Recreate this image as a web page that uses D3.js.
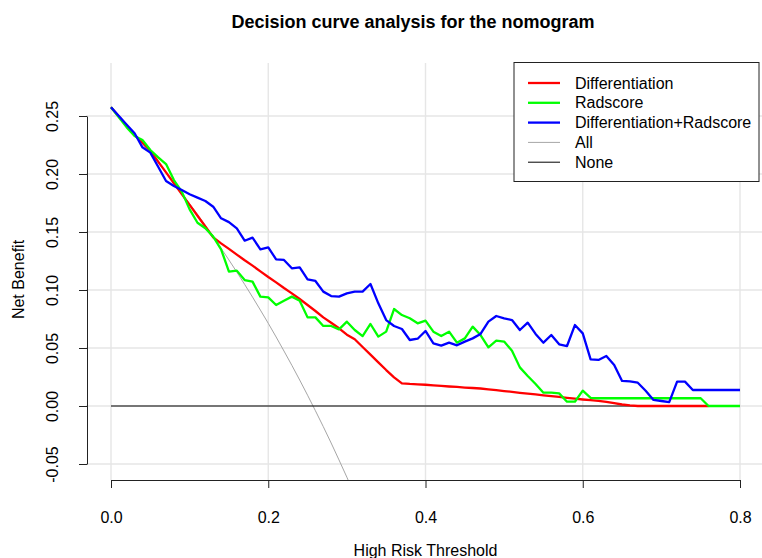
<!DOCTYPE html>
<html>
<head>
<meta charset="utf-8">
<script src="https://cdn.jsdelivr.net/npm/d3@7"></script>
<style>
  body { margin: 0; background: #fff; }
  svg { font-family: "Liberation Sans", Arial, sans-serif; }
</style>
</head>
<body>
<svg id="chart" width="762" height="558"></svg>
<script>
// threshold probabilities (x)
const thresholds = [
  0.00, 0.01, 0.02, 0.03, 0.04, 0.05, 0.06, 0.07, 0.08, 0.09,
  0.10, 0.11, 0.12, 0.13, 0.14, 0.15, 0.16, 0.17, 0.18, 0.19,
  0.20, 0.21, 0.22, 0.23, 0.24, 0.25, 0.26, 0.27, 0.28, 0.29,
  0.30, 0.31, 0.32, 0.33, 0.34, 0.35, 0.36, 0.37, 0.38, 0.39,
  0.40, 0.41, 0.42, 0.43, 0.44, 0.45, 0.46, 0.47, 0.48, 0.49,
  0.50, 0.51, 0.52, 0.53, 0.54, 0.55, 0.56, 0.57, 0.58, 0.59,
  0.60, 0.61, 0.62, 0.63, 0.64, 0.65, 0.66, 0.67, 0.68, 0.69,
  0.70, 0.71, 0.72, 0.73, 0.74, 0.75, 0.76, 0.77, 0.78, 0.79, 0.80
];

// net benefit, Differentiation (ends at 0.76)
const differentiation = [
  0.2575, 0.2495, 0.2415, 0.2336, 0.2270, 0.2200, 0.2107, 0.2014, 0.1920, 0.1827,
  0.1734, 0.1640, 0.1547, 0.1453, 0.1402, 0.1355, 0.1305, 0.1256, 0.1210, 0.1161,
  0.1112, 0.1066, 0.1017, 0.0971, 0.0922, 0.0871, 0.0819, 0.0764, 0.0718, 0.0670,
  0.0615, 0.0575, 0.0509, 0.0443, 0.0376, 0.0310, 0.0247, 0.0195, 0.0190, 0.0187,
  0.0183, 0.0178, 0.0173, 0.0168, 0.0164, 0.0159, 0.0155, 0.0151, 0.0144, 0.0136,
  0.0129, 0.0122, 0.0114, 0.0107, 0.0100, 0.0092, 0.0085, 0.0078, 0.0070, 0.0063,
  0.0056, 0.0050, 0.0044, 0.0035, 0.0024, 0.0013, 0.0005, 0, 0, 0,
  0, 0, 0, 0, 0, 0, 0
];

// net benefit, Radscore
const radscore = [
  0.2575, 0.2490, 0.2402, 0.2328, 0.2293, 0.2207, 0.2144, 0.2086, 0.1948, 0.1848,
  0.1695, 0.1580, 0.1532, 0.1460, 0.1351, 0.1158, 0.1167, 0.1086, 0.1072, 0.0943,
  0.0937, 0.0871, 0.0908, 0.0943, 0.0908, 0.0764, 0.0764, 0.0690, 0.0690, 0.0661,
  0.0727, 0.0655, 0.0603, 0.0707, 0.0598, 0.0641, 0.0836, 0.0784, 0.0756, 0.0713,
  0.0736, 0.0641, 0.0603, 0.0641, 0.0546, 0.0583, 0.0684, 0.0612, 0.0506, 0.0563,
  0.0555, 0.0477, 0.0333, 0.0259, 0.0190, 0.0115, 0.0115, 0.0109, 0.0037, 0.0037,
  0.0132, 0.0070, 0.0067, 0.0067, 0.0067, 0.0067, 0.0067, 0.0067, 0.0067, 0.0067,
  0.0067, 0.0067, 0.0067, 0.0067, 0.0067, 0.0067, 0, 0, 0, 0, 0
];

// net benefit, Differentiation+Radscore
const combined = [
  0.2575, 0.2500, 0.2425, 0.2351, 0.2230, 0.2184, 0.2063, 0.1940, 0.1897, 0.1862,
  0.1825, 0.1796, 0.1767, 0.1718, 0.1618, 0.1585, 0.1532, 0.1425, 0.1451, 0.1351,
  0.1368, 0.1264, 0.1259, 0.1187, 0.1195, 0.1092, 0.1078, 0.0986, 0.0948, 0.0943,
  0.0971, 0.0986, 0.0986, 0.1052, 0.0885, 0.0741, 0.0690, 0.0664, 0.0569, 0.0580,
  0.0647, 0.0540, 0.0520, 0.0546, 0.0523, 0.0555, 0.0583, 0.0621, 0.0727, 0.0776,
  0.0756, 0.0741, 0.0655, 0.0718, 0.0621, 0.0546, 0.0612, 0.0532, 0.0517, 0.0698,
  0.0626, 0.0402, 0.0397, 0.0431, 0.0353, 0.0216, 0.0213, 0.0201, 0.0132, 0.0052,
  0.0043, 0.0034, 0.0210, 0.0210, 0.0138, 0.0138, 0.0138, 0.0138, 0.0138, 0.0138, 0.0138
];

// treat all (runs off the bottom of the plot after ~0.30)
const treatAll = [
  0.2570, 0.2495, 0.2418, 0.2340, 0.2260, 0.2179, 0.2096, 0.2011, 0.1924, 0.1835,
  0.1744, 0.1652, 0.1557, 0.1460, 0.1360, 0.1259, 0.1155, 0.1048, 0.0939, 0.0827,
  0.0713, 0.0595, 0.0474, 0.0351, 0.0224, 0.0093, -0.0041, -0.0178, -0.0319, -0.0465,
  -0.0614, -0.0768
];

const treatNone = [0, 0];
const noneX = [0, 0.8];

const xTicks = [0, 0.2, 0.4, 0.6, 0.8];
const yTicks = [-0.05, 0, 0.05, 0.10, 0.15, 0.20, 0.25];

const legendNames = ["Differentiation", "Radscore", "Differentiation+Radscore", "All", "None"];
const legendColors = ["#ff0000", "#00ff00", "#0000ff", "#a6a6a6", "#000000"];
const legendWidths = [2.3, 2.3, 2.3, 1, 1];

const svg = d3.select("#chart");

// plot region (R style, axes drawn at its edges)
const plot = { left: 86, right: 765, top: 63, bottom: 480 };

const x = d3.scaleLinear().domain([0, 0.8]).range([111, 740]);
const y = d3.scaleLinear().domain([-0.05, 0.25]).range([464, 116]);

svg.append("defs").append("clipPath").attr("id", "clip")
  .append("rect")
  .attr("x", plot.left).attr("y", plot.top)
  .attr("width", plot.right - plot.left).attr("height", plot.bottom - plot.top);

// grid
const grid = svg.append("g").attr("stroke", "#e6e6e6").attr("stroke-width", 1.4);
grid.selectAll("line.h")
  .data(yTicks)
  .enter()
  .append("line")
  .attr("class", "h")
  .attr("x1", plot.left).attr("x2", plot.right)
  .attr("y1", d => y(d)).attr("y2", d => y(d));
grid.selectAll("line.v")
  .data(xTicks)
  .enter()
  .append("line")
  .attr("class", "v")
  .attr("x1", d => x(d)).attr("x2", d => x(d))
  .attr("y1", plot.top).attr("y2", plot.bottom);

const line = d3.line()
  .defined(d => d[1] != null)
  .x(d => x(d[0]))
  .y(d => y(d[1]));

const lines = svg.append("g").attr("clip-path", "url(#clip)").attr("fill", "none");

function drawSeries(xs, vals, color, width) {
  const pts = vals.map((v, i) => [xs[i], v]);
  lines.append("path")
    .datum(pts)
    .attr("d", line)
    .attr("stroke", color)
    .attr("stroke-width", width)
    .attr("stroke-linejoin", "round");
}

drawSeries(thresholds, treatAll, legendColors[3], legendWidths[3]);
drawSeries(noneX, treatNone, legendColors[4], legendWidths[4]);
drawSeries(thresholds, differentiation, legendColors[0], legendWidths[0]);
drawSeries(thresholds, radscore, legendColors[1], legendWidths[1]);
drawSeries(thresholds, combined, legendColors[2], legendWidths[2]);

// x axis
const xAxis = svg.append("g")
  .attr("transform", "translate(0," + plot.bottom + ")")
  .call(d3.axisBottom(x).tickValues(xTicks).tickSize(8).tickSizeOuter(0).tickFormat(d3.format(".1f")));
xAxis.select(".domain").attr("stroke", "#222");
xAxis.selectAll(".tick line").attr("stroke", "#222");
xAxis.selectAll(".tick text")
  .attr("y", 43).attr("dy", 0)
  .attr("font-size", 16).attr("fill", "#000")
  .attr("font-family", "Liberation Sans, Arial, sans-serif");

// y axis (plain hyphen for negatives, like R)
const yFmt = d => d3.format(".2f")(d).replace("\u2212", "-");
const yAxis = svg.append("g")
  .attr("transform", "translate(" + (plot.left + 1) + ",0)")
  .call(d3.axisLeft(y).tickValues(yTicks).tickSize(8).tickSizeOuter(0).tickFormat(yFmt));
yAxis.select(".domain").attr("stroke", "#222");
yAxis.selectAll(".tick line").attr("stroke", "#222");
yAxis.selectAll(".tick text")
  .attr("x", 0).attr("dy", 0)
  .attr("transform", "translate(-29,0) rotate(-90)")
  .attr("text-anchor", "middle")
  .attr("font-size", 16).attr("fill", "#000")
  .attr("font-family", "Liberation Sans, Arial, sans-serif");

// titles
svg.append("text")
  .attr("x", 413).attr("y", 28)
  .attr("text-anchor", "middle")
  .attr("font-size", 18).attr("font-weight", "bold")
  .text("Decision curve analysis for the nomogram");

svg.append("text")
  .attr("x", (plot.left + plot.right) / 2).attr("y", 556)
  .attr("text-anchor", "middle")
  .attr("font-size", 16)
  .text("High Risk Threshold");

svg.append("text")
  .attr("transform", "translate(24," + ((plot.top + plot.bottom) / 2 + 8) + ") rotate(-90)")
  .attr("text-anchor", "middle")
  .attr("font-size", 16)
  .text("Net Benefit");

// legend
const legend = svg.append("g");
legend.append("rect")
  .attr("x", 514).attr("y", 62.5)
  .attr("width", 245).attr("height", 119)
  .attr("fill", "#fff").attr("stroke", "#222").attr("stroke-width", 1);

const items = legend.selectAll("g.item")
  .data(legendNames)
  .enter()
  .append("g")
  .attr("class", "item")
  .attr("transform", (d, i) => "translate(0," + (83 + i * 19.8) + ")");
items.append("line")
  .attr("x1", 528).attr("x2", 560)
  .attr("stroke", (d, i) => legendColors[i])
  .attr("stroke-width", (d, i) => legendWidths[i]);
items.append("text")
  .attr("x", 575).attr("y", 5.5)
  .attr("font-size", 16)
  .text(d => d);
</script>
</body>
</html>
